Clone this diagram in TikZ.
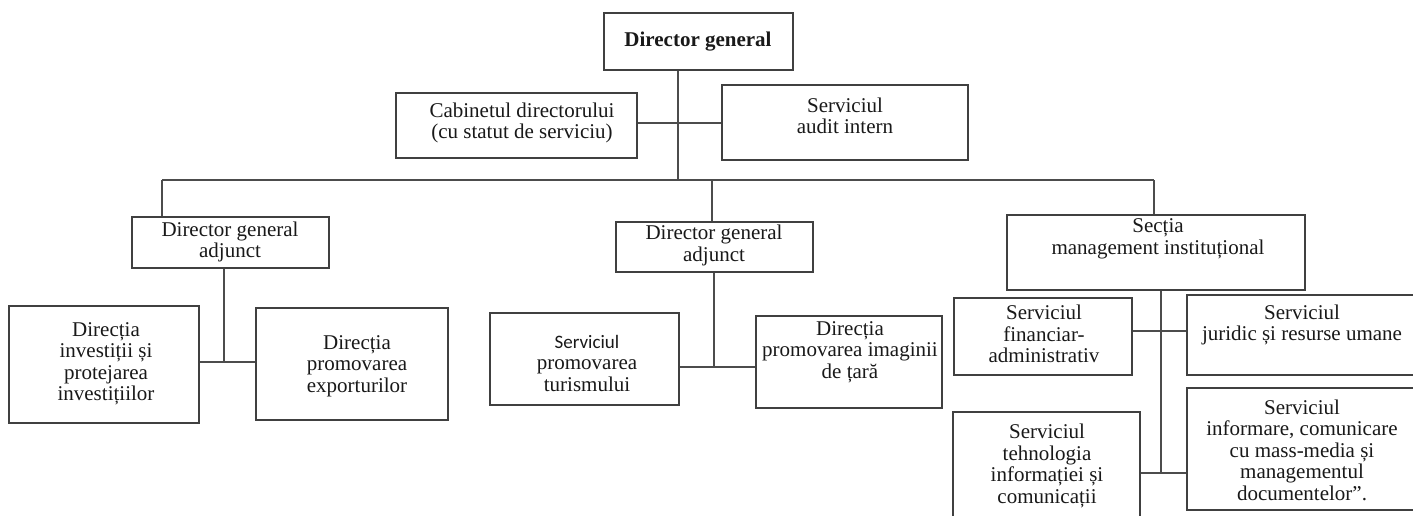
\documentclass[tikz,border=0pt]{standalone}
\usepackage{fontspec}
\setmainfont{Liberation Serif}
\newfontfamily\carl{Carlito}
\begin{document}
\begin{tikzpicture}[x=1pt,y=-1pt,
  box/.style={draw=black!75,line width=1.4pt,inner sep=0pt,fill=white},
  txt/.style={align=center,font=\fontsize{21}{21.5}\selectfont,text=black!90,inner sep=0pt},
  conn/.style={draw=black!70,line width=1.3pt}]
\path[use as bounding box] (0,0) rectangle (1413,515);
\clip (0,0) rectangle (1413,515);
\fill[white] (0,0) rectangle (1413,515);
% boxes
\node[box,minimum width=189,minimum height=57] (dg) at (698.5,41.5) {};
\node[box,minimum width=241,minimum height=65] (cab) at (516.5,125.5) {};
\node[box,minimum width=246,minimum height=75] (aud) at (845,122.5) {};
\node[box,minimum width=197,minimum height=51] (dga1) at (230.5,242.5) {};
\node[box,minimum width=197,minimum height=50] (dga2) at (714.5,247) {};
\node[box,minimum width=298,minimum height=75] (sec) at (1156,252.5) {};
\node[box,minimum width=190,minimum height=117] (inv) at (104,364.5) {};
\node[box,minimum width=192,minimum height=112] (exp) at (352,364) {};
\node[box,minimum width=189,minimum height=92] (tur) at (584.5,359) {};
\node[box,minimum width=186,minimum height=92] (img) at (849,362) {};
\node[box,minimum width=178,minimum height=77] (fin) at (1043,336.5) {};
\node[box,minimum width=231,minimum height=80] (jur) at (1302.5,335) {};
\node[box,minimum width=231,minimum height=122] (inf) at (1302.5,449) {};
\node[box,minimum width=187,minimum height=110] (tech) at (1046.5,467) {};
% texts
\node[txt,font=\fontsize{21}{21.5}\selectfont\bfseries] (tdg) at (698,42) {Director general};
\node[txt] (tcab) at (522,123) {Cabinetul directorului\\(cu statut de serviciu)};
\node[txt] (taud) at (845,116) {Serviciul\\audit intern};
\node[txt] (tdga1) at (230,242) {Director general\\adjunct};
\node[txt] (tdga2) at (714,245.5) {Director general\\adjunct};
\node[txt] (tsec) at (1158,239) {Secția\\management instituțional};
\node[txt] (tinv) at (106,364) {Direcția\\investiții și\\protejarea\\investițiilor};
\node[txt] (texp) at (357,366) {Direcția\\promovarea\\exporturilor};
\node[txt] (ttur) at (587,363) {{\carl\fontsize{19}{21.5}\selectfont Serviciul}\\promovarea\\turismului};
\node[txt] (timg) at (850,352) {Direcția\\promovarea imaginii\\de țară};
\node[txt] (tfin) at (1044,334) {Serviciul\\financiar-\\administrativ};
\node[txt] (tjur) at (1302,325) {Serviciul\\juridic și resurse umane};
\node[txt] (tinf) at (1302,450) {Serviciul\\informare, comunicare\\cu mass-media și\\managementul\\documentelor”.};
\node[txt] (ttech) at (1047,466) {Serviciul\\tehnologia\\informației și\\comunicații};
% junction coordinates
\coordinate (t) at (678,180);
\coordinate (hl) at (162,180);
\coordinate (hr) at (1154,180);
\coordinate (j2) at (712,180);
\coordinate (c1) at (678,123);
\coordinate (k1) at (224,362);
\coordinate (k2) at (714,367);
\coordinate (k3) at (1161,473);
\coordinate (k4) at (1161,331);
% connectors
\draw[conn] (dg.south -| t) -- (t);
\draw[conn] (hl) -- (hr);
\draw[conn] (hl) -- (hl |- dga1.north);
\draw[conn] (j2) -- (j2 |- dga2.north);
\draw[conn] (hr) -- (hr |- sec.north);
\draw[conn] (cab.east |- c1) -- (aud.west |- c1);
\draw[conn] (dga1.south -| k1) -- (k1);
\draw[conn] (inv.east |- k1) -- (exp.west |- k1);
\draw[conn] (dga2.south -| k2) -- (k2);
\draw[conn] (tur.east |- k2) -- (img.west |- k2);
\draw[conn] (sec.south -| k3) -- (k3);
\draw[conn] (fin.east |- k4) -- (jur.west |- k4);
\draw[conn] (tech.east |- k3) -- (inf.west |- k3);
\end{tikzpicture}
\end{document}
